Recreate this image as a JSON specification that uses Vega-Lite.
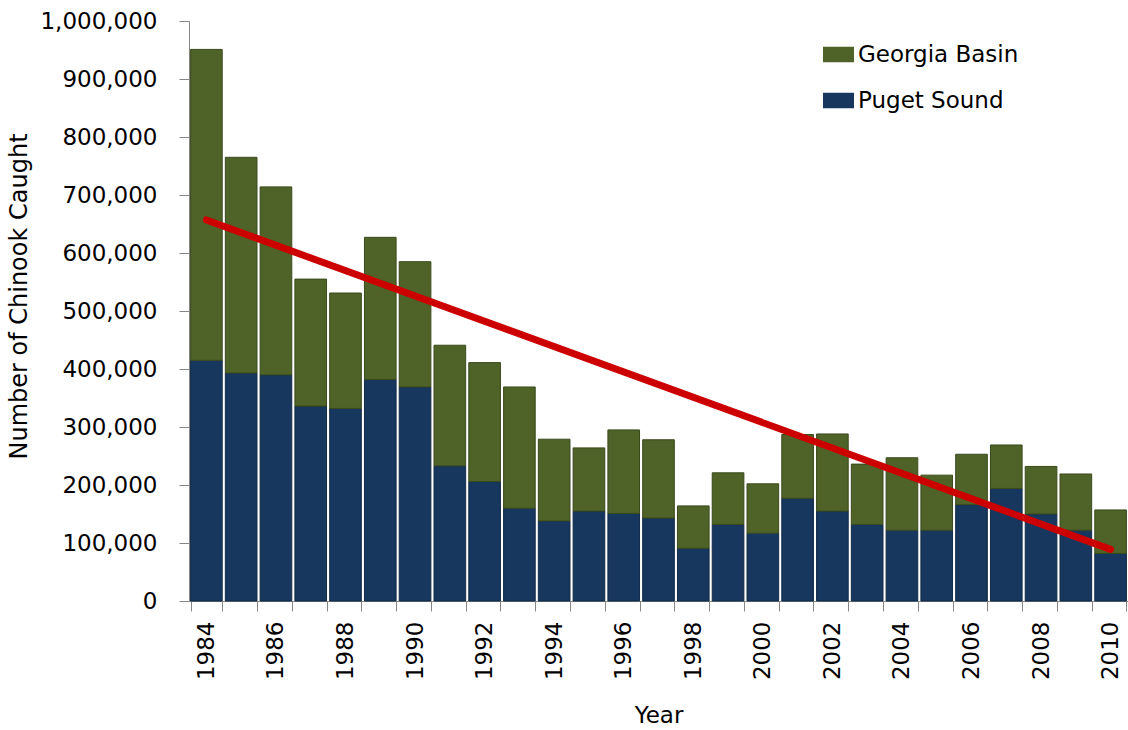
{
  "$schema": "https://vega.github.io/schema/vega-lite/v6.json",
  "autosize": "none",
  "width": 939,
  "height": 580,
  "padding": {"left": 189, "top": 21, "right": 0, "bottom": 129},
  "background": "white",
  "config": {
    "font": "DejaVu Sans",
    "view": {"stroke": null},
    "axis": {
      "labelFont": "DejaVu Sans",
      "titleFont": "DejaVu Sans",
      "labelFontSize": 23,
      "titleFontSize": 23,
      "titleFontWeight": "normal",
      "labelColor": "#000000",
      "titleColor": "#000000",
      "domainColor": "#868686",
      "tickColor": "#868686",
      "tickSize": 10,
      "grid": false
    }
  },
  "datasets": {
    "catch": [
      {"year": 1984, "region": "Puget Sound", "value": 415000},
      {"year": 1984, "region": "Georgia Basin", "value": 536000},
      {"year": 1985, "region": "Puget Sound", "value": 393000},
      {"year": 1985, "region": "Georgia Basin", "value": 372000},
      {"year": 1986, "region": "Puget Sound", "value": 390000},
      {"year": 1986, "region": "Georgia Basin", "value": 324000},
      {"year": 1987, "region": "Puget Sound", "value": 336000},
      {"year": 1987, "region": "Georgia Basin", "value": 219000},
      {"year": 1988, "region": "Puget Sound", "value": 332000},
      {"year": 1988, "region": "Georgia Basin", "value": 199000},
      {"year": 1989, "region": "Puget Sound", "value": 382000},
      {"year": 1989, "region": "Georgia Basin", "value": 245000},
      {"year": 1990, "region": "Puget Sound", "value": 369000},
      {"year": 1990, "region": "Georgia Basin", "value": 216000},
      {"year": 1991, "region": "Puget Sound", "value": 233000},
      {"year": 1991, "region": "Georgia Basin", "value": 208000},
      {"year": 1992, "region": "Puget Sound", "value": 206000},
      {"year": 1992, "region": "Georgia Basin", "value": 205000},
      {"year": 1993, "region": "Puget Sound", "value": 160000},
      {"year": 1993, "region": "Georgia Basin", "value": 209000},
      {"year": 1994, "region": "Puget Sound", "value": 138000},
      {"year": 1994, "region": "Georgia Basin", "value": 141000},
      {"year": 1995, "region": "Puget Sound", "value": 155000},
      {"year": 1995, "region": "Georgia Basin", "value": 109000},
      {"year": 1996, "region": "Puget Sound", "value": 151000},
      {"year": 1996, "region": "Georgia Basin", "value": 144000},
      {"year": 1997, "region": "Puget Sound", "value": 143000},
      {"year": 1997, "region": "Georgia Basin", "value": 135000},
      {"year": 1998, "region": "Puget Sound", "value": 91000},
      {"year": 1998, "region": "Georgia Basin", "value": 73000},
      {"year": 1999, "region": "Puget Sound", "value": 132000},
      {"year": 1999, "region": "Georgia Basin", "value": 89000},
      {"year": 2000, "region": "Puget Sound", "value": 117000},
      {"year": 2000, "region": "Georgia Basin", "value": 85000},
      {"year": 2001, "region": "Puget Sound", "value": 177000},
      {"year": 2001, "region": "Georgia Basin", "value": 110000},
      {"year": 2002, "region": "Puget Sound", "value": 155000},
      {"year": 2002, "region": "Georgia Basin", "value": 133000},
      {"year": 2003, "region": "Puget Sound", "value": 132000},
      {"year": 2003, "region": "Georgia Basin", "value": 104000},
      {"year": 2004, "region": "Puget Sound", "value": 122000},
      {"year": 2004, "region": "Georgia Basin", "value": 125000},
      {"year": 2005, "region": "Puget Sound", "value": 122000},
      {"year": 2005, "region": "Georgia Basin", "value": 95000},
      {"year": 2006, "region": "Puget Sound", "value": 166000},
      {"year": 2006, "region": "Georgia Basin", "value": 87000},
      {"year": 2007, "region": "Puget Sound", "value": 194000},
      {"year": 2007, "region": "Georgia Basin", "value": 75000},
      {"year": 2008, "region": "Puget Sound", "value": 150000},
      {"year": 2008, "region": "Georgia Basin", "value": 82000},
      {"year": 2009, "region": "Puget Sound", "value": 122000},
      {"year": 2009, "region": "Georgia Basin", "value": 97000},
      {"year": 2010, "region": "Puget Sound", "value": 82000},
      {"year": 2010, "region": "Georgia Basin", "value": 75000}
    ],
    "trend": [
      {"year": 1984, "value": 657000},
      {"year": 2010, "value": 89000}
    ]
  },
  "layer": [
    {
      "data": {"name": "catch"},
      "mark": {"type": "bar", "strokeWidth": 1},
      "encoding": {
        "x": {
          "field": "year",
          "type": "ordinal",
          "scale": {"paddingInner": 0.09, "paddingOuter": 0.045},
          "axis": {
            "title": "Year",
            "labelAngle": -90,
            "labelPadding": 10,
            "titlePadding": 25,
            "tickBand": "extent",
            "labelExpr": "datum.value % 2 == 0 ? datum.label : ''"
          }
        },
        "y": {
          "field": "value",
          "type": "quantitative",
          "stack": "zero",
          "scale": {"domain": [0, 1000000], "nice": false},
          "axis": {
            "title": "Number of Chinook Caught",
            "titleFontSize": 24,
            "titleY": 275,
            "values": [0, 100000, 200000, 300000, 400000, 500000, 600000, 700000, 800000, 900000, 1000000],
            "format": ",d",
            "labelPadding": 22,
            "titlePadding": 8
          }
        },
        "color": {
          "field": "region",
          "type": "nominal",
          "scale": {"domain": ["Georgia Basin", "Puget Sound"], "range": ["#4F6228", "#17375E"]},
          "legend": {
            "title": null,
            "orient": "none",
            "legendX": 634,
            "legendY": 18,
            "padding": 0,
            "labelFont": "DejaVu Sans",
            "labelFontSize": 23,
            "labelLimit": 400,
            "labelColor": "#000000",
            "labelOffset": 4,
            "rowPadding": 18,
            "symbolType": "M-1,-0.5L1,-0.5L1,0.5L-1,0.5Z",
            "symbolSize": 961,
            "symbolStrokeWidth": 0
          }
        },
        "stroke": {
          "field": "region",
          "type": "nominal",
          "scale": {"domain": ["Georgia Basin", "Puget Sound"], "range": ["#3A4A1C", "#112A48"]},
          "legend": null
        },
        "order": {"field": "region", "sort": "descending"}
      }
    },
    {
      "data": {"name": "trend"},
      "mark": {"type": "line", "color": "#CC0000", "strokeWidth": 7, "strokeCap": "round"},
      "encoding": {
        "x": {"field": "year", "type": "ordinal"},
        "y": {"field": "value", "type": "quantitative"}
      }
    }
  ]
}
